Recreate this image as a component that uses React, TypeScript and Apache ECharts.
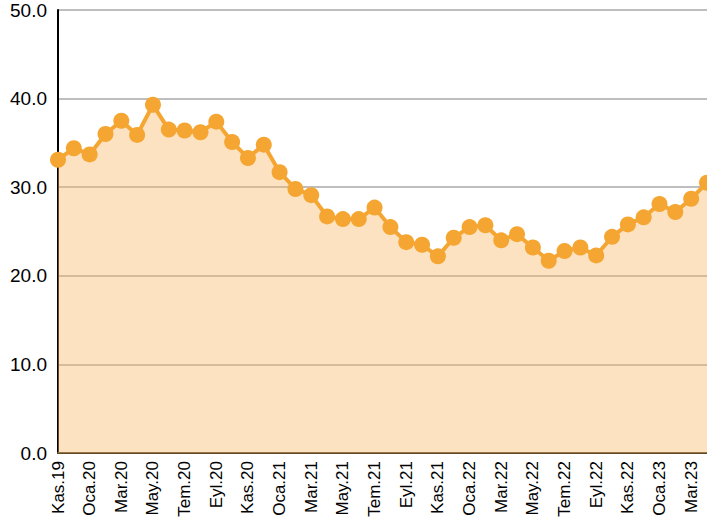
import React, { useEffect, useRef } from "react";
import * as echarts from "echarts";

const months = [
  "Kas.19", "Ara.19", "Oca.20", "Şub.20", "Mar.20", "Nis.20", "May.20", "Haz.20", "Tem.20", "Ağu.20", "Eyl.20", "Eki.20",
  "Kas.20", "Ara.20", "Oca.21", "Şub.21", "Mar.21", "Nis.21", "May.21", "Haz.21", "Tem.21", "Ağu.21", "Eyl.21", "Eki.21",
  "Kas.21", "Ara.21", "Oca.22", "Şub.22", "Mar.22", "Nis.22", "May.22", "Haz.22", "Tem.22", "Ağu.22", "Eyl.22", "Eki.22",
  "Kas.22", "Ara.22", "Oca.23", "Şub.23", "Mar.23", "Nis.23",
];

const values = [
  33.1, 34.4, 33.7, 36.0, 37.5, 35.9, 39.3, 36.5, 36.4, 36.2, 37.4, 35.1,
  33.3, 34.8, 31.7, 29.8, 29.1, 26.7, 26.4, 26.4, 27.7, 25.5, 23.8, 23.5,
  22.2, 24.3, 25.5, 25.7, 24.0, 24.7, 23.2, 21.7, 22.8, 23.2, 22.3, 24.4,
  25.8, 26.6, 28.1, 27.2, 28.7, 30.5,
];

const yMin = 0;
const yMax = 50;
const yStep = 10;

export default function App() {
  const ref = useRef<HTMLDivElement>(null);
  useEffect(() => {
    const chart = echarts.init(ref.current!, null, { renderer: "svg" });
    chart.setOption({
      animation: false,
      grid: { left: 58, right: 0, top: 10, bottom: 77 },
      xAxis: {
        type: "category",
        data: months,
        boundaryGap: false,
        axisLine: { show: true, lineStyle: { color: "#5e4a2c", width: 2 } },
        axisTick: { show: false },
        axisLabel: {
          interval: 1,
          rotate: 90,
          color: "#000",
          fontSize: 17,
          fontFamily: "Liberation Sans, Arial, sans-serif",
          margin: 8,
        },
        splitLine: { show: false },
      },
      yAxis: {
        type: "value",
        min: yMin,
        max: yMax,
        interval: yStep,
        axisLine: { show: true, lineStyle: { color: "#000", width: 2 } },
        axisTick: { show: false },
        axisLabel: {
          formatter: (v: number) => v.toFixed(1),
          color: "#000",
          fontSize: 19,
          fontFamily: "Liberation Sans, Arial, sans-serif",
          margin: 11,
        },
        splitLine: { show: true, lineStyle: { color: "#bebebe", width: 2 } },
      },
      series: [
        {
          type: "line",
          data: values,
          symbol: "circle",
          symbolSize: 16,
          showAllSymbol: true,
          clip: false,
          lineStyle: { color: "#F5A632", width: 4 },
          itemStyle: { color: "#F5A632" },
          areaStyle: { color: "rgba(247,182,97,0.4)", opacity: 1 },
        },
      ],
    });
    return () => chart.dispose();
  }, []);
  return (
    <div
      ref={ref}
      style={{ position: "fixed", left: 0, top: 0, width: 707, height: 530, background: "#fff" }}
    />
  );
}
